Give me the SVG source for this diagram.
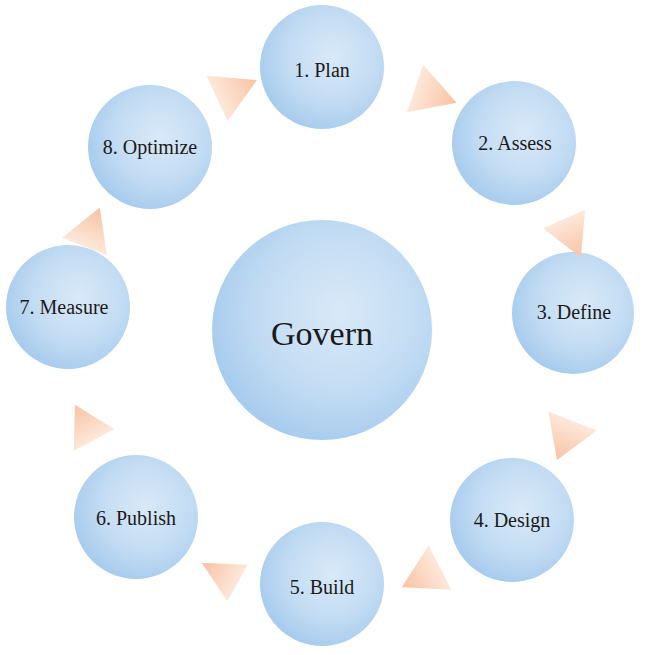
<svg xmlns="http://www.w3.org/2000/svg" width="645" height="655" viewBox="0 0 645 655">
  <defs>
    <radialGradient id="ball" cx="0.58" cy="0.42" r="0.6">
      <stop offset="0" stop-color="#d9e9f8"/>
      <stop offset="0.6" stop-color="#c3dcf3"/>
      <stop offset="1" stop-color="#a8ccee"/>
    </radialGradient>
    <linearGradient id="wedge" x1="0" y1="0" x2="1" y2="0">
      <stop offset="0" stop-color="#fde8da"/>
      <stop offset="1" stop-color="#f8c2a2"/>
    </linearGradient>
    <style>
      .ball { fill: url(#ball); }
      .lbl { font-family: "Liberation Serif", "DejaVu Serif", serif; font-size: 20px; fill: #1a1a1a; text-anchor: middle; dominant-baseline: central; }
      .big { font-size: 34px; }
      .arrow { fill: url(#wedge); }
    </style>
  </defs>
  <rect width="645" height="655" fill="#ffffff"/>

  <g id="govern">
    <circle class="ball" cx="322" cy="330" r="110"/>
    <text class="lbl big" x="322" y="333">Govern</text>
  </g>
  <g id="plan">
    <circle class="ball" cx="322" cy="67" r="62"/>
    <text class="lbl" x="322" y="70">1. Plan</text>
  </g>
  <g id="assess">
    <circle class="ball" cx="514" cy="143" r="62"/>
    <text class="lbl" x="515" y="143">2. Assess</text>
  </g>
  <g id="define">
    <circle class="ball" cx="573" cy="313" r="61"/>
    <text class="lbl" x="574" y="312">3. Define</text>
  </g>
  <g id="design">
    <circle class="ball" cx="512" cy="520" r="62"/>
    <text class="lbl" x="512" y="520">4. Design</text>
  </g>
  <g id="build">
    <circle class="ball" cx="322" cy="584" r="62"/>
    <text class="lbl" x="322" y="587">5. Build</text>
  </g>
  <g id="publish">
    <circle class="ball" cx="136" cy="517" r="62"/>
    <text class="lbl" x="136" y="518">6. Publish</text>
  </g>
  <g id="measure">
    <circle class="ball" cx="68" cy="307" r="62"/>
    <text class="lbl" x="64" y="307">7. Measure</text>
  </g>
  <g id="optimize">
    <circle class="ball" cx="150" cy="147" r="62"/>
    <text class="lbl" x="150" y="147">8. Optimize</text>
  </g>

  <!-- cycle arrows: wedge pointing along +x, placed at its base midpoint -->
  <g id="connectors">
    <polygon class="arrow" points="0,-25 44,0 0,25" transform="translate(217,98.5) rotate(-24.8)"/>
    <polygon class="arrow" points="0,-25 44,0 0,25" transform="translate(415,88.5) rotate(19)"/>
    <polygon class="arrow" points="0,-23 42,0 0,23" transform="translate(564,219) rotate(66.3)"/>
    <polygon class="arrow" points="0,-26 42,0 0,26" transform="translate(572.5,421) rotate(111.7)"/>
    <polygon class="arrow" points="0,-25 43,0 0,25" transform="translate(440,567.5) rotate(152.8)"/>
    <polygon class="arrow" points="0,-21 41,0 0,21" transform="translate(237.5,583) rotate(209.4)"/>
    <polygon class="arrow" points="0,-23 40,0 0,23" transform="translate(94,440) rotate(-118.5)"/>
    <polygon class="arrow" points="0,-24 42,0 0,24" transform="translate(84.5,246.5) rotate(-68.6)"/>
  </g>
</svg>
